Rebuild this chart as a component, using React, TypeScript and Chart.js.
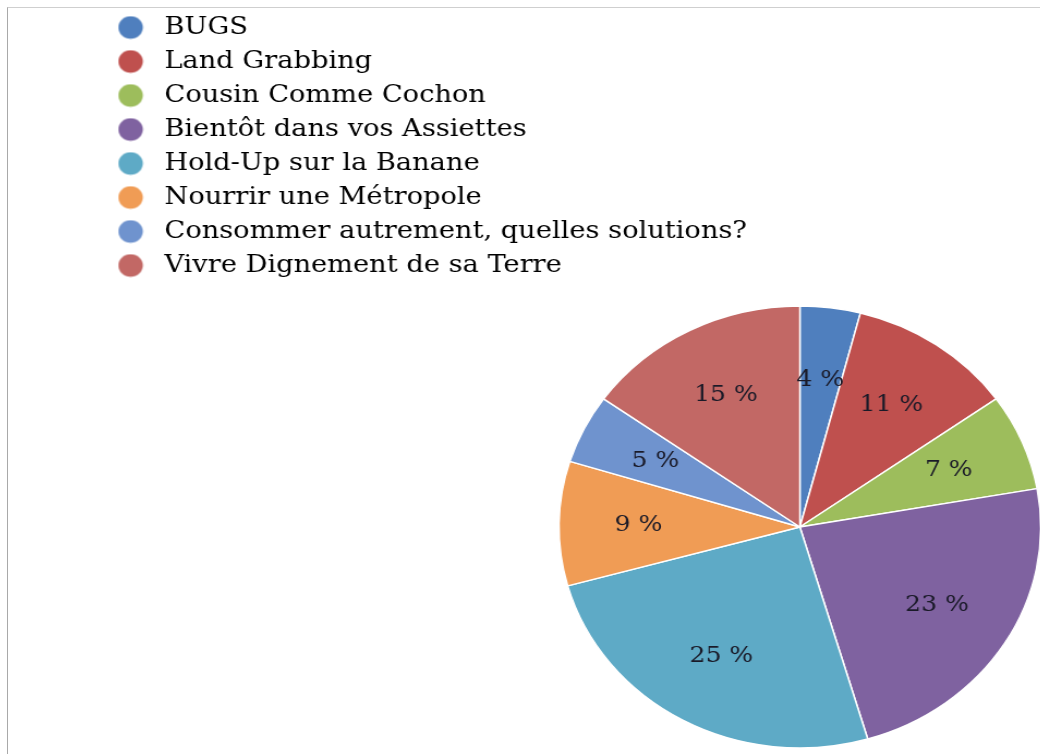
import React, { useEffect, useRef } from "react";
import { Chart, registerables } from "chart.js";

Chart.register(...registerables);

const categories: string[] = [
  "BUGS",
  "Land Grabbing",
  "Cousin Comme Cochon",
  "Bientôt dans vos Assiettes",
  "Hold-Up sur la Banane",
  "Nourrir une Métropole",
  "Consommer autrement, quelles solutions?",
  "Vivre Dignement de sa Terre",
];

const shares: number[] = [4, 11, 7, 23, 25, 9, 5, 15];

const colors: string[] = [
  "#4f7fbe",
  "#bf504e",
  "#9dbd5c",
  "#7f62a0",
  "#5eaac6",
  "#f09c55",
  "#6f93ce",
  "#c26865",
];

const STRETCH = 1.09;
const CANVAS_W = 1368;
const CANVAS_H = 1042;

function makeDot(color: string): HTMLCanvasElement {
  const c = document.createElement("canvas");
  c.width = 24;
  c.height = 24;
  const g = c.getContext("2d")!;
  g.fillStyle = color;
  g.beginPath();
  g.arc(12, 12, 11.2, 0, Math.PI * 2);
  g.fill();
  return c;
}

const sliceLabels = {
  id: "sliceLabels",
  afterDatasetsDraw(chart: any) {
    const ctx = chart.ctx as CanvasRenderingContext2D;
    const meta = chart.getDatasetMeta(0);
    ctx.save();
    ctx.font = '23px "DejaVu Serif"';
    ctx.fillStyle = "#1a1a28";
    ctx.textAlign = "center";
    ctx.textBaseline = "middle";
    meta.data.forEach((arc: any, i: number) => {
      const p = arc.getProps(["x", "y", "startAngle", "endAngle", "outerRadius"], true);
      const mid = (p.startAngle + p.endAngle) / 2;
      const r = p.outerRadius * 0.67;
      ctx.fillText(`${shares[i]} %`, p.x + Math.cos(mid) * r, p.y + Math.sin(mid) * r);
    });
    ctx.restore();
  },
};

export default function App() {
  const ref = useRef<HTMLCanvasElement | null>(null);

  useEffect(() => {
    if (!ref.current) return;
    const dots = colors.map(makeDot);
    const chart = new Chart(ref.current, {
      type: "pie",
      data: {
        labels: categories,
        datasets: [
          {
            data: shares,
            backgroundColor: colors,
            borderColor: "#ffffff",
            borderWidth: 1.5,
          },
        ],
      },
      options: {
        responsive: false,
        animation: false,
        devicePixelRatio: 1,
        radius: 221,
        layout: { padding: { left: 85, top: 0, right: 0, bottom: 0 } },
        plugins: {
          legend: {
            position: "chartArea",
            align: "start",
            labels: {
              usePointStyle: true,
              pointStyleWidth: 37,
              padding: 9,
              color: "#000000",
              font: { family: "DejaVu Serif", size: 25 },
              generateLabels: () =>
                categories.map((text, i) => ({
                  text,
                  fillStyle: colors[i],
                  strokeStyle: colors[i],
                  lineWidth: 0,
                  pointStyle: dots[i],
                  hidden: false,
                  index: i,
                  datasetIndex: 0,
                })),
            },
          },
          tooltip: { enabled: false },
        },
      } as any,
      plugins: [sliceLabels],
    });
    return () => chart.destroy();
  }, []);

  return (
    <div
      style={{
        position: "fixed",
        left: 7,
        top: 7,
        width: 1033,
        height: 747,
        overflow: "hidden",
        borderLeft: "1px solid #a9a9a9",
        borderTop: "1px solid #cfcfcf",
        background: "#ffffff",
      }}
    >
      <div
        style={{
          marginTop: -2,
          width: CANVAS_W,
          height: CANVAS_H,
          transform: `scaleX(${STRETCH})`,
          transformOrigin: "0 0",
        }}
      >
        <canvas
          ref={ref}
          width={CANVAS_W}
          height={CANVAS_H}
          style={{ width: CANVAS_W, height: CANVAS_H, display: "block" }}
        />
      </div>
    </div>
  );
}
